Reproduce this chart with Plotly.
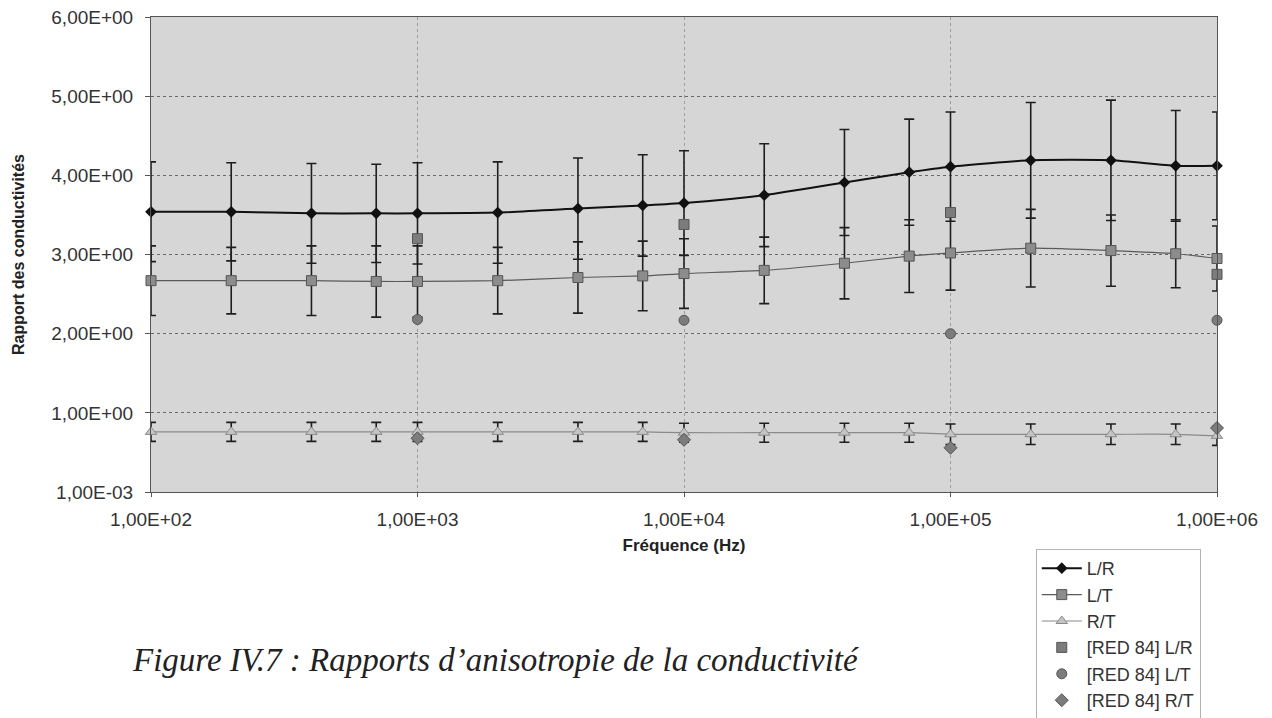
import plotly.graph_objects as go

# Frequencies (Hz)
freq = [100, 200, 400, 700, 1e3, 2e3, 4e3, 7e3, 1e4, 2e4, 4e4, 7e4, 1e5, 2e5, 4e5, 7e5, 1e6]

# Conductivity ratios and their uncertainties
lr = [3.54, 3.54, 3.52, 3.52, 3.52, 3.53, 3.58, 3.62, 3.65, 3.75, 3.91, 4.04, 4.11, 4.19, 4.19, 4.12, 4.12]
lr_err = [0.63, 0.62, 0.63, 0.62, 0.64, 0.64, 0.64, 0.64, 0.66, 0.65, 0.67, 0.67, 0.69, 0.73, 0.76, 0.70, 0.68]

lt = [2.67, 2.67, 2.67, 2.66, 2.66, 2.67, 2.71, 2.73, 2.76, 2.80, 2.89, 2.98, 3.02, 3.08, 3.05, 3.01, 2.95]
lt_err = [0.44, 0.42, 0.44, 0.45, 0.45, 0.42, 0.45, 0.44, 0.44, 0.42, 0.45, 0.46, 0.47, 0.49, 0.45, 0.43, 0.41]

rt = [0.76, 0.76, 0.76, 0.76, 0.76, 0.76, 0.76, 0.76, 0.75, 0.75, 0.75, 0.75, 0.73, 0.73, 0.73, 0.73, 0.71]
rt_err = [0.12, 0.12, 0.12, 0.12, 0.12, 0.12, 0.12, 0.12, 0.12, 0.12, 0.12, 0.12, 0.13, 0.13, 0.13, 0.13, 0.12]

# Literature values [RED 84]
red_freq = [1e3, 1e4, 1e5, 1e6]
red_lr = [3.20, 3.38, 3.53, 2.75]
red_lt = [2.18, 2.17, 2.00, 2.17]
red_rt = [0.68, 0.66, 0.56, 0.81]

x_ticks = [1e2, 1e3, 1e4, 1e5, 1e6]
x_ticktext = ["1,00E+02", "1,00E+03", "1,00E+04", "1,00E+05", "1,00E+06"]
y_ticks = [0.001, 1, 2, 3, 4, 5, 6]
y_ticktext = ["1,00E-03", "1,00E+00", "2,00E+00", "3,00E+00", "4,00E+00", "5,00E+00", "6,00E+00"]

FONT = "Liberation Sans, Arial, sans-serif"


def err(vals, color="#1e1e1e"):
    return dict(type="data", array=vals, visible=True, color=color, thickness=1.6, width=5)


fig = go.Figure()

fig.add_trace(go.Scatter(
    x=freq, y=lr, name="L/R", mode="lines+markers", legendgroup="a",
    line=dict(color="#111111", width=2, shape="spline", smoothing=0.6),
    marker=dict(symbol="diamond", size=9, color="#111111"),
    error_y=err(lr_err), cliponaxis=False,
))
fig.add_trace(go.Scatter(
    x=freq, y=lt, name="L/T", mode="lines+markers", legendgroup="b",
    line=dict(color="#5a5a5a", width=1.2, shape="spline", smoothing=0.6),
    marker=dict(symbol="square", size=10, color="#8c8c8c", line=dict(color="#555555", width=1)),
    error_y=err(lt_err), cliponaxis=False,
))
fig.add_trace(go.Scatter(
    x=freq, y=rt, name="R/T", mode="lines+markers", legendgroup="c",
    line=dict(color="#8a8a8a", width=1.2, shape="spline", smoothing=0.6),
    marker=dict(symbol="triangle-up", size=10, color="#c4c4c4", line=dict(color="#8a8a8a", width=1)),
    error_y=err(rt_err), cliponaxis=False,
))
fig.add_trace(go.Scatter(
    x=red_freq, y=red_lr, name="[RED 84] L/R", mode="markers", legendgroup="d",
    marker=dict(symbol="square", size=10, color="#7c7c7c", line=dict(color="#555555", width=1)),
    cliponaxis=False,
))
fig.add_trace(go.Scatter(
    x=red_freq, y=red_lt, name="[RED 84] L/T", mode="markers", legendgroup="e",
    marker=dict(symbol="circle", size=10, color="#7c7c7c", line=dict(color="#555555", width=1)),
    cliponaxis=False,
))
fig.add_trace(go.Scatter(
    x=red_freq, y=red_rt, name="[RED 84] R/T", mode="markers", legendgroup="f",
    marker=dict(symbol="diamond", size=10, color="#7c7c7c", line=dict(color="#555555", width=1)),
    cliponaxis=False,
))

fig.update_layout(
    width=1272, height=718,
    margin=dict(l=151, r=55, t=17, b=226, autoexpand=False),
    paper_bgcolor="white",
    plot_bgcolor="#d6d6d6",
    font=dict(family=FONT, color="#2a2a2a", size=15),
    showlegend=True,
    legend=dict(
        x=0.83, y=-0.12, xanchor="left", yanchor="top",
        bgcolor="white", bordercolor="#b4b4b4", borderwidth=1,
        font=dict(family=FONT, size=18, color="#333333"),
        traceorder="grouped", tracegroupgap=0,
        itemwidth=40,
    ),
    xaxis=dict(
        type="log", range=[2, 6],
        tickvals=x_ticks, ticktext=x_ticktext,
        tickfont=dict(family=FONT, size=19, color="#333333"),
        ticks="outside", ticklen=4, tickcolor="#555555",
        ticklabelstandoff=6,
        showgrid=True, gridcolor="#9c9c9c", griddash="dot", gridwidth=1,
        showline=True, linecolor="#555555", linewidth=1, mirror=True,
        zeroline=False,
        title=dict(text="<b>Fréquence (Hz)</b>", font=dict(family=FONT, size=17, color="#222222"), standoff=10),
    ),
    yaxis=dict(
        range=[0.001, 6],
        tickvals=y_ticks, ticktext=y_ticktext,
        tickfont=dict(family=FONT, size=19, color="#333333"),
        ticks="outside", ticklen=5, tickcolor="#555555",
        ticklabelstandoff=8,
        showgrid=True, gridcolor="#6a6a6a", griddash="dot", gridwidth=1,
        showline=True, linecolor="#555555", linewidth=1, mirror=True,
        zeroline=False,
        title=dict(text="<b>Rapport des conductivités</b>", font=dict(family=FONT, size=16, color="#222222"), standoff=22),
    ),
    annotations=[dict(
        text="<i>Figure IV.7 : Rapports d’anisotropie de la conductivité</i>",
        xref="paper", yref="paper", x=-0.02, y=-0.354,
        xanchor="left", yanchor="middle", showarrow=False,
        font=dict(family="Liberation Serif, Times New Roman, serif", size=33, color="#222222"),
    )],
)

fig.write_html("out.html")
